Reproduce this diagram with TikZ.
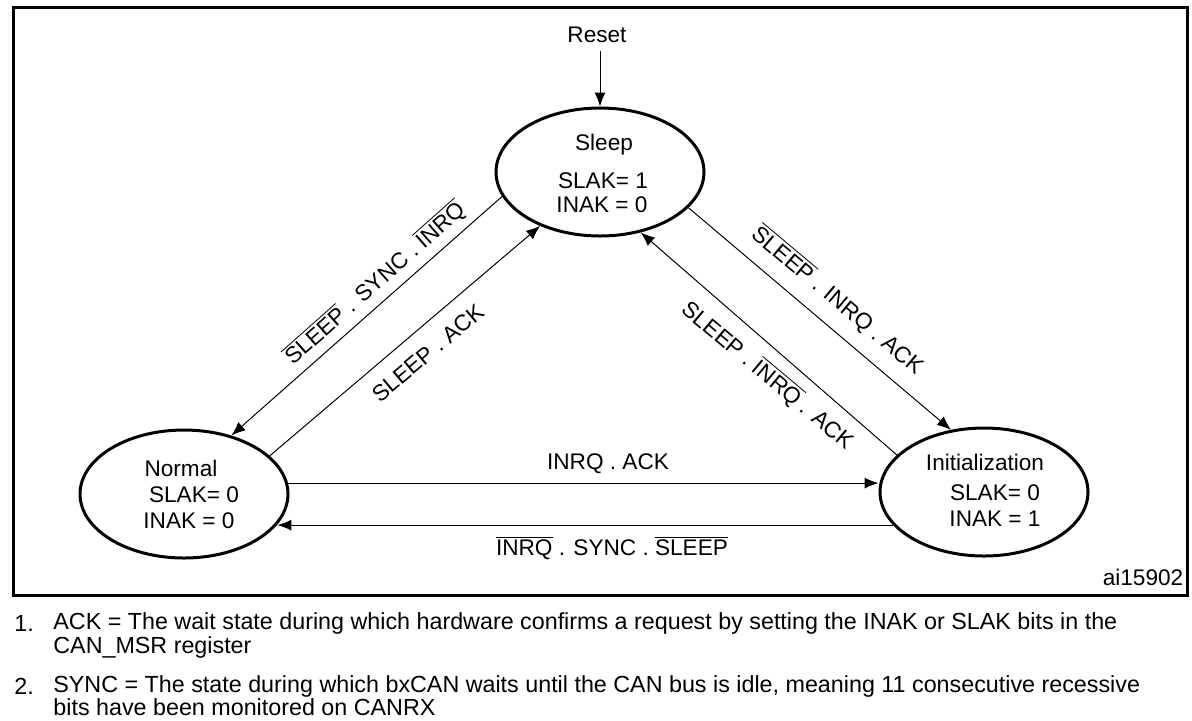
\documentclass[tikz,border=0pt]{standalone}
\usepackage{fontspec}
\setmainfont{Liberation Sans}
\usetikzlibrary{shapes.geometric,arrows.meta}
\newcommand{\ob}[1]{$\overline{\mbox{#1}}$}
\begin{document}
\begin{tikzpicture}[x=0.5pt,y=-0.5pt,
 state/.style={ellipse,draw,line width=1.5pt,minimum width=104pt,minimum height=64pt,inner sep=0pt},
 conn/.style={line width=0.5pt,-{Latex[length=7pt,width=5.5pt]}},
 lbl/.style={font=\fontsize{11.3}{13.5}\selectfont,inner sep=0pt},
 note/.style={font=\fontsize{11.65}{14}\selectfont,anchor=west,inner sep=0pt}]
\useasboundingbox (0,0) rectangle (1192,720);
\draw[line width=1.5pt] (13,7) rectangle (1187,595);

% states
\node[state] (sleep) at (600,172) {};
\node[state] (normal) at (184,494) {};
\node[state] (init) at (984,492) {};

\node[lbl] (sleepT) at (604,145) {Sleep};
\node[lbl] (sleepS) at (603,181) {SLAK= 1};
\node[lbl] (sleepI) at (602,205) {INAK = 0};

\node[lbl] (normalT) at (181,468) {Normal};
\node[lbl] (normalS) at (194,495) {SLAK= 0};
\node[lbl] (normalI) at (189,521) {INAK = 0};

\node[lbl] (initT) at (985,462) {Initialization};
\node[lbl] (initS) at (995,493) {SLAK= 0};
\node[lbl] (initI) at (995,519) {INAK = 1};

% reset
\node[lbl] (reset) at (597,35) {Reset};
\draw[conn] ([yshift=-4pt]sleep.north |- reset.south) -- (sleep.north);

% diagonal transitions
\draw[conn] (sleep.194) -- (normal.51);
\draw[conn] (normal.24) -- (sleep.222);
\draw[conn] (sleep.338) -- (init.118);
\draw[conn] (init.157) -- (sleep.304);

% horizontal transitions
\draw[conn] (normal.6) -- (normal.6 -| init.west);
\draw[conn] (init.200) -- (normal.-18 |- init.200);

% transition labels
\node[lbl,rotate=41.6] (l1) at (375,283) {\ob{SLEEP} . SYNC . \ob{INRQ}};
\node[lbl,rotate=40] (l2) at (428,353) {SLEEP . ACK};
\node[lbl,rotate=-40] (l3) at (838,300) {\ob{SLEEP} . INRQ . ACK};
\node[lbl,rotate=-40] (l4) at (768,375) {SLEEP . \ob{INRQ} . ACK};
\node[lbl] (l5) at (608,464) {INRQ . ACK};
\node[lbl] (l6) at (612,548) {\ob{INRQ} . SYNC . \ob{SLEEP}};

\node[lbl] (ref) at (1143,577) {ai15902};

% footnotes
\node[note] (n1) at (14,623) {1.};
\node[note] (n1a) at (53,623) {ACK = The wait state during which hardware confirms a request by setting the INAK or SLAK bits in the};
\node[note] (n1b) at (53,647) {CAN\_MSR register};
\node[note] (n2) at (14,686) {2.};
\node[note] (n2a) at (53,686) {SYNC = The state during which bxCAN waits until the CAN bus is idle, meaning 11 consecutive recessive};
\node[note] (n2b) at (53,707) {bits have been monitored on CANRX};
\end{tikzpicture}
\end{document}
